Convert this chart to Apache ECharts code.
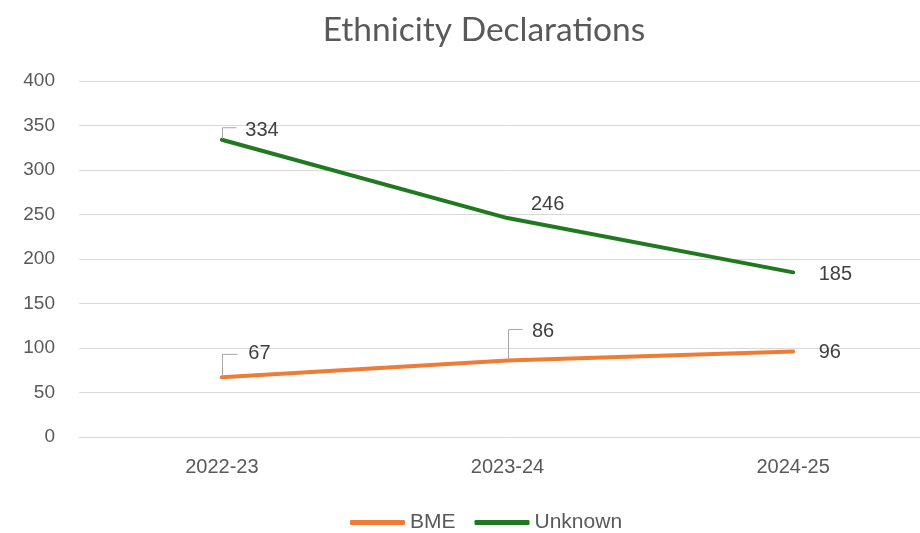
<!DOCTYPE html>
<html>
<head>
<meta charset="utf-8">
<script src="https://cdn.jsdelivr.net/npm/echarts@6/dist/echarts.min.js"></script>
<style>html,body{margin:0;padding:0;background:#fff;overflow:hidden;width:920px;height:533px}#c{width:936px;height:533px}</style>
</head>
<body>
<div id="c"></div>
<script>
var categories = ['2022-23', '2023-24', '2024-25'];
var bmeValues = [67, 86, 96];
var unknownValues = [334, 246, 185];
var yTicks = [0, 400, 50];

// label offsets (layout only)
var labelShift = {
  0: [[21, -24], [19, -29], [20, 1]],
  1: [[18, -9], [18, -14], [20, 2]]
};
// leader line geometry: [seriesIndex, dataIndex, rise, run]
var leaders = [[0, 0, 23, 15], [0, 1, 31, 14], [1, 0, 12, 14]];

var chart = echarts.init(document.getElementById('c'));
function mkSeries(name, vals, color, si) {
  return {
    name: name, type: 'line', data: vals,
    showSymbol: true, symbol: 'circle', symbolSize: 1,
    lineStyle: { width: 4, color: color, cap: 'round' },
    itemStyle: { color: color },
    z: 3,
    label: { show: true, position: 'right', distance: 5, fontFamily: 'Liberation Sans', fontSize: 20, color: '#404040' },
    labelLayout: function (p) {
      var s = labelShift[si][p.dataIndex];
      return { dx: s[0], dy: s[1] };
    }
  };
}
var seriesVals = [bmeValues, unknownValues];
chart.setOption({
  animation: false,
  title: { text: 'Ethnicity Declarations', left: 479, textAlign: 'center', top: 8, textStyle: { fontFamily: 'Lato', fontWeight: 'normal', fontSize: 33.5, color: '#595959' } },
  grid: { left: 79, right: 0, top: 81, bottom: 96, containLabel: false },
  xAxis: {
    type: 'category', data: categories, boundaryGap: true,
    axisLine: { lineStyle: { color: '#d9d9d9', width: 1 } },
    axisTick: { show: false },
    axisLabel: { fontFamily: 'Liberation Sans', fontSize: 20, color: '#595959', margin: 20 }
  },
  yAxis: {
    type: 'value', min: yTicks[0], max: yTicks[1], interval: yTicks[2],
    axisLine: { show: false }, axisTick: { show: false },
    axisLabel: { fontFamily: 'Liberation Sans', fontSize: 19, color: '#595959', margin: 24 },
    splitLine: { lineStyle: { color: '#d9d9d9', width: 1 } }
  },
  legend: {
    top: 507, left: 345, itemWidth: 55, itemHeight: 5, itemGap: 19,
    icon: 'roundRect',
    textStyle: { fontFamily: 'Liberation Sans', fontSize: 21, color: '#595959', padding: [0, 0, 0, 0] },
    data: ['BME', 'Unknown']
  },
  series: [
    mkSeries('BME', bmeValues, '#EE7B36', 0),
    mkSeries('Unknown', unknownValues, '#1F7A1F', 1)
  ]
});
var gr = leaders.map(function (L) {
  var pt = chart.convertToPixel({ seriesIndex: L[0] }, [L[1], seriesVals[L[0]][L[1]]]);
  var x = Math.round(pt[0]) + 0.5, y = pt[1];
  return {
    type: 'polyline', z: 10, silent: true,
    shape: { points: [[x, y - 1], [x, y - L[2]], [x + L[3], y - L[2]]] },
    style: { stroke: '#a6a6a6', lineWidth: 1, fill: null }
  };
});
chart.setOption({ graphic: gr });
</script>
</body>
</html>
